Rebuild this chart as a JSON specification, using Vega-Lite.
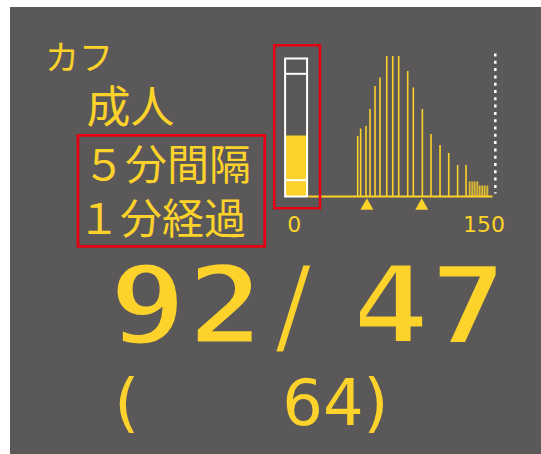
{
  "$schema": "https://vega.github.io/schema/vega-lite/v6.json",
  "width": 541,
  "height": 454,
  "autosize": {"type": "fit", "contains": "padding"},
  "padding": {"left": 10, "top": 7, "right": 0, "bottom": 0},
  "background": "#ffffff",
  "config": {"view": {"fill": "#5a5858", "stroke": null}},
  "datasets": {
    "oscillation": [
      {"pressure": 39.5, "amplitude": 60.5},
      {"pressure": 41.9, "amplitude": 68},
      {"pressure": 46.3, "amplitude": 70.5},
      {"pressure": 49.6, "amplitude": 87.5},
      {"pressure": 53.7, "amplitude": 110.5},
      {"pressure": 57.8, "amplitude": 119},
      {"pressure": 63.3, "amplitude": 140.5},
      {"pressure": 68.2, "amplitude": 140.5},
      {"pressure": 73.1, "amplitude": 140.5},
      {"pressure": 80.5, "amplitude": 125.5},
      {"pressure": 85.1, "amplitude": 109},
      {"pressure": 92.5, "amplitude": 87.5},
      {"pressure": 99.6, "amplitude": 62.5},
      {"pressure": 107, "amplitude": 51.5},
      {"pressure": 114.1, "amplitude": 43.5},
      {"pressure": 121.4, "amplitude": 31.5},
      {"pressure": 128.3, "amplitude": 31.5},
      {"pressure": 131, "amplitude": 15},
      {"pressure": 132.4, "amplitude": 15},
      {"pressure": 133.8, "amplitude": 15},
      {"pressure": 135.1, "amplitude": 15},
      {"pressure": 136.5, "amplitude": 15},
      {"pressure": 137.9, "amplitude": 15},
      {"pressure": 139.2, "amplitude": 11},
      {"pressure": 140.6, "amplitude": 11},
      {"pressure": 141.9, "amplitude": 11},
      {"pressure": 143.3, "amplitude": 11},
      {"pressure": 144.7, "amplitude": 11},
      {"pressure": 146.1, "amplitude": 11}
    ],
    "gauge": [{"level": 61, "full": 138}],
    "gaugeTicks": [{"tick": 16.3}, {"tick": 122.7}],
    "markers": [{"kind": "拡張期", "pressure": 47}, {"kind": "収縮期", "pressure": 92}],
    "reading": [{"systolic": 92, "diastolic": 47, "pulse": 64}],
    "one": [{"k": 1}]
  },
  "layer": [
    {
      "data": {"name": "gauge"},
      "mark": {"type": "rect", "fill": "#fcd22b"},
      "encoding": {
        "x": {"datum": -20, "type": "quantitative", "axis": null, "scale": {"domain": [-245.5, 189.75], "nice": false, "zero": false}},
        "x2": {"datum": -2},
        "y": {"field": "level", "type": "quantitative", "axis": null, "scale": {"domain": [-257.5, 189.5], "nice": false, "zero": false}},
        "y2": {"datum": 0}
      }
    },
    {
      "data": {"name": "gauge"},
      "mark": {"type": "rect", "fillOpacity": 0, "stroke": "#ffffff", "strokeWidth": 2},
      "encoding": {
        "x": {"datum": -20, "type": "quantitative", "axis": null, "scale": {"domain": [-245.5, 189.75], "nice": false, "zero": false}},
        "x2": {"datum": -2},
        "y": {"field": "full", "type": "quantitative", "axis": null, "scale": {"domain": [-257.5, 189.5], "nice": false, "zero": false}},
        "y2": {"datum": 0}
      }
    },
    {
      "data": {"name": "gaugeTicks"},
      "mark": {"type": "rule", "color": "#ffffff", "strokeWidth": 2},
      "encoding": {
        "x": {"datum": -20, "type": "quantitative", "axis": null, "scale": {"domain": [-245.5, 189.75], "nice": false, "zero": false}},
        "x2": {"datum": -2},
        "y": {"field": "tick", "type": "quantitative", "axis": null, "scale": {"domain": [-257.5, 189.5], "nice": false, "zero": false}}
      }
    },
    {
      "data": {"name": "one"},
      "mark": {"type": "rule", "color": "#fcd22b", "strokeWidth": 2},
      "encoding": {
        "x": {"datum": -1, "type": "quantitative", "axis": null, "scale": {"domain": [-245.5, 189.75], "nice": false, "zero": false}},
        "x2": {"datum": 150},
        "y": {"datum": 0, "type": "quantitative", "axis": null, "scale": {"domain": [-257.5, 189.5], "nice": false, "zero": false}}
      }
    },
    {
      "data": {"name": "oscillation"},
      "transform": [{"filter": "datum.amplitude > 20"}],
      "mark": {"type": "rule", "color": "#fcd22b", "strokeWidth": 1.6},
      "encoding": {
        "x": {"field": "pressure", "type": "quantitative", "axis": null, "scale": {"domain": [-245.5, 189.75], "nice": false, "zero": false}},
        "y": {"field": "amplitude", "type": "quantitative", "axis": null, "scale": {"domain": [-257.5, 189.5], "nice": false, "zero": false}},
        "y2": {"datum": 0}
      }
    },
    {
      "data": {"name": "oscillation"},
      "transform": [{"filter": "datum.amplitude <= 20"}],
      "mark": {"type": "rule", "color": "#fcd22b", "strokeWidth": 1},
      "encoding": {
        "x": {"field": "pressure", "type": "quantitative", "axis": null, "scale": {"domain": [-245.5, 189.75], "nice": false, "zero": false}},
        "y": {"field": "amplitude", "type": "quantitative", "axis": null, "scale": {"domain": [-257.5, 189.5], "nice": false, "zero": false}},
        "y2": {"datum": 0}
      }
    },
    {
      "data": {"name": "one"},
      "mark": {"type": "rule", "color": "#ffffff", "strokeWidth": 2.5, "strokeDash": [3, 4.3]},
      "encoding": {
        "x": {"datum": 152.3, "type": "quantitative", "axis": null, "scale": {"domain": [-245.5, 189.75], "nice": false, "zero": false}},
        "y": {"datum": 143, "type": "quantitative", "axis": null, "scale": {"domain": [-257.5, 189.5], "nice": false, "zero": false}},
        "y2": {"datum": 3}
      }
    },
    {
      "data": {"name": "markers"},
      "mark": {"type": "point", "shape": "triangle-up", "filled": true, "size": 169, "color": "#fcd22b", "opacity": 1},
      "encoding": {
        "x": {"field": "pressure", "type": "quantitative", "axis": null, "scale": {"domain": [-245.5, 189.75], "nice": false, "zero": false}},
        "y": {"datum": -7.5, "type": "quantitative", "axis": null, "scale": {"domain": [-257.5, 189.5], "nice": false, "zero": false}}
      }
    },
    {
      "data": {"name": "one"},
      "mark": {"type": "text", "font": "DejaVu Sans", "fontSize": 22, "color": "#fcd22b", "align": "center", "baseline": "alphabetic"},
      "encoding": {
        "x": {"datum": -12.5, "type": "quantitative", "axis": null, "scale": {"domain": [-245.5, 189.75], "nice": false, "zero": false}},
        "y": {"datum": -35.2, "type": "quantitative", "axis": null, "scale": {"domain": [-257.5, 189.5], "nice": false, "zero": false}},
        "text": {"value": "0"}
      }
    },
    {
      "data": {"name": "one"},
      "mark": {"type": "text", "font": "DejaVu Sans", "fontSize": 22, "color": "#fcd22b", "align": "center", "baseline": "alphabetic"},
      "encoding": {
        "x": {"datum": 143, "type": "quantitative", "axis": null, "scale": {"domain": [-245.5, 189.75], "nice": false, "zero": false}},
        "y": {"datum": -35.2, "type": "quantitative", "axis": null, "scale": {"domain": [-257.5, 189.5], "nice": false, "zero": false}},
        "text": {"value": "150"}
      }
    },
    {
      "data": {"name": "one"},
      "mark": {"type": "text", "font": "Noto Sans CJK JP", "fontSize": 34, "color": "#fcd22b", "align": "left", "baseline": "alphabetic"},
      "encoding": {
        "x": {"datum": -216.8, "type": "quantitative", "axis": null, "scale": {"domain": [-245.5, 189.75], "nice": false, "zero": false}},
        "y": {"datum": 126.5, "type": "quantitative", "axis": null, "scale": {"domain": [-257.5, 189.5], "nice": false, "zero": false}},
        "text": {"value": "カフ"}
      }
    },
    {
      "data": {"name": "one"},
      "mark": {"type": "text", "font": "Noto Sans CJK JP", "fontSize": 44, "color": "#fcd22b", "align": "left", "baseline": "alphabetic"},
      "encoding": {
        "x": {"datum": -182.8, "type": "quantitative", "axis": null, "scale": {"domain": [-245.5, 189.75], "nice": false, "zero": false}},
        "y": {"datum": 73.5, "type": "quantitative", "axis": null, "scale": {"domain": [-257.5, 189.5], "nice": false, "zero": false}},
        "text": {"value": "成人"}
      }
    },
    {
      "data": {"name": "one"},
      "mark": {"type": "text", "font": "Noto Sans CJK JP", "fontSize": 42, "color": "#fcd22b", "align": "left", "baseline": "alphabetic"},
      "encoding": {
        "x": {"datum": -185.7, "type": "quantitative", "axis": null, "scale": {"domain": [-245.5, 189.75], "nice": false, "zero": false}},
        "y": {"datum": 16.5, "type": "quantitative", "axis": null, "scale": {"domain": [-257.5, 189.5], "nice": false, "zero": false}},
        "text": {"value": "５分間隔"}
      }
    },
    {
      "data": {"name": "one"},
      "mark": {"type": "text", "font": "Noto Sans CJK JP", "fontSize": 42, "color": "#fcd22b", "align": "left", "baseline": "alphabetic"},
      "encoding": {
        "x": {"datum": -189.8, "type": "quantitative", "axis": null, "scale": {"domain": [-245.5, 189.75], "nice": false, "zero": false}},
        "y": {"datum": -37.5, "type": "quantitative", "axis": null, "scale": {"domain": [-257.5, 189.5], "nice": false, "zero": false}},
        "text": {"value": "１分経過"}
      }
    },
    {
      "data": {"name": "reading"},
      "mark": {"type": "text", "font": "DejaVu Sans", "fontWeight": "bold", "fontSize": 111, "color": "#fcd22b", "stroke": "#5a5858", "strokeWidth": 5, "align": "left", "baseline": "alphabetic"},
      "encoding": {
        "x": {"datum": -164.1, "type": "quantitative", "axis": null, "scale": {"domain": [-245.5, 189.75], "nice": false, "zero": false}},
        "y": {"datum": -147.5, "type": "quantitative", "axis": null, "scale": {"domain": [-257.5, 189.5], "nice": false, "zero": false}},
        "text": {"field": "systolic", "type": "quantitative", "format": "d"}
      }
    },
    {
      "data": {"name": "one"},
      "mark": {"type": "text", "font": "DejaVu Sans", "fontWeight": "bold", "fontSize": 111, "color": "#fcd22b", "stroke": "#5a5858", "strokeWidth": 5, "align": "center", "baseline": "alphabetic"},
      "encoding": {
        "x": {"datum": -13.3, "type": "quantitative", "axis": null, "scale": {"domain": [-245.5, 189.75], "nice": false, "zero": false}},
        "y": {"datum": -147.5, "type": "quantitative", "axis": null, "scale": {"domain": [-257.5, 189.5], "nice": false, "zero": false}},
        "text": {"value": "/"}
      }
    },
    {
      "data": {"name": "reading"},
      "mark": {"type": "text", "font": "DejaVu Sans", "fontWeight": "bold", "fontSize": 111, "color": "#fcd22b", "stroke": "#5a5858", "strokeWidth": 5, "align": "right", "baseline": "alphabetic"},
      "encoding": {
        "x": {"datum": 161.9, "type": "quantitative", "axis": null, "scale": {"domain": [-245.5, 189.75], "nice": false, "zero": false}},
        "y": {"datum": -147.5, "type": "quantitative", "axis": null, "scale": {"domain": [-257.5, 189.5], "nice": false, "zero": false}},
        "text": {"field": "diastolic", "type": "quantitative", "format": "d"}
      }
    },
    {
      "data": {"name": "one"},
      "mark": {"type": "text", "font": "DejaVu Sans", "fontSize": 64, "color": "#fcd22b", "align": "left", "baseline": "alphabetic"},
      "encoding": {
        "x": {"datum": -160.1, "type": "quantitative", "axis": null, "scale": {"domain": [-245.5, 189.75], "nice": false, "zero": false}},
        "y": {"datum": -228.5, "type": "quantitative", "axis": null, "scale": {"domain": [-257.5, 189.5], "nice": false, "zero": false}},
        "text": {"value": "("}
      }
    },
    {
      "data": {"name": "reading"},
      "mark": {"type": "text", "font": "DejaVu Sans", "fontSize": 64, "color": "#fcd22b", "align": "left", "baseline": "alphabetic"},
      "encoding": {
        "x": {"datum": -22.4, "type": "quantitative", "axis": null, "scale": {"domain": [-245.5, 189.75], "nice": false, "zero": false}},
        "y": {"datum": -228.5, "type": "quantitative", "axis": null, "scale": {"domain": [-257.5, 189.5], "nice": false, "zero": false}},
        "text": {"field": "pulse", "type": "quantitative", "format": "d"}
      }
    },
    {
      "data": {"name": "one"},
      "mark": {"type": "text", "font": "DejaVu Sans", "fontSize": 64, "color": "#fcd22b", "align": "left", "baseline": "alphabetic"},
      "encoding": {
        "x": {"datum": 44.3, "type": "quantitative", "axis": null, "scale": {"domain": [-245.5, 189.75], "nice": false, "zero": false}},
        "y": {"datum": -228.5, "type": "quantitative", "axis": null, "scale": {"domain": [-257.5, 189.5], "nice": false, "zero": false}},
        "text": {"value": ")"}
      }
    },
    {
      "data": {"name": "one"},
      "mark": {"type": "rect", "fillOpacity": 0, "stroke": "#e60012", "strokeWidth": 2.5},
      "encoding": {
        "x": {"datum": -28.9, "type": "quantitative", "axis": null, "scale": {"domain": [-245.5, 189.75], "nice": false, "zero": false}},
        "x2": {"datum": 8.6},
        "y": {"datum": 151.2, "type": "quantitative", "axis": null, "scale": {"domain": [-257.5, 189.5], "nice": false, "zero": false}},
        "y2": {"datum": -11.8}
      }
    },
    {
      "data": {"name": "one"},
      "mark": {"type": "rect", "fillOpacity": 0, "stroke": "#e60012", "strokeWidth": 2.7},
      "encoding": {
        "x": {"datum": -189.8, "type": "quantitative", "axis": null, "scale": {"domain": [-245.5, 189.75], "nice": false, "zero": false}},
        "x2": {"datum": -36.7},
        "y": {"datum": 61.2, "type": "quantitative", "axis": null, "scale": {"domain": [-257.5, 189.5], "nice": false, "zero": false}},
        "y2": {"datum": -49.8}
      }
    }
  ]
}
